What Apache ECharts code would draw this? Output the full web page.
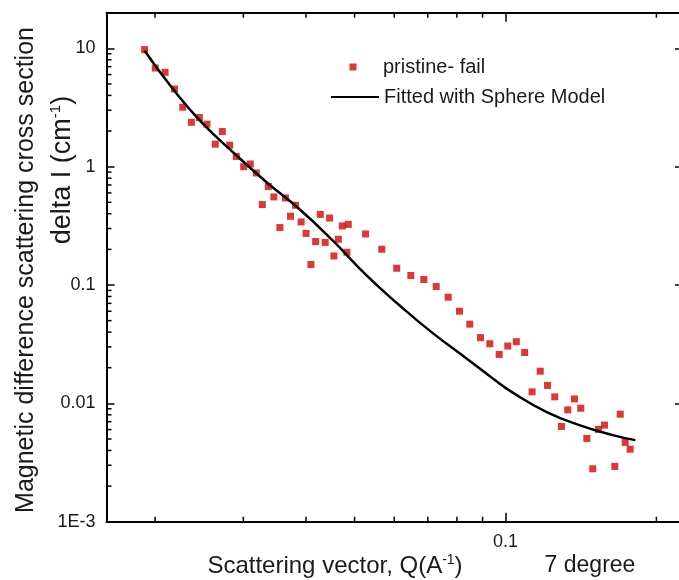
<!DOCTYPE html>
<html><head><meta charset="utf-8">
<script src="https://cdn.jsdelivr.net/npm/echarts@6/dist/echarts.min.js"></script>
<style>html,body{margin:0;padding:0;background:#fff}#c{width:679px;height:580px}</style>
</head><body><div id="c"></div>
<script>
// Measured points: pristine- fail
const qData = [0.01906,0.02002,0.02094,0.02186,0.02271,0.02363,0.02451,0.02538,0.02637,0.02724,
  0.02817,0.02904,0.03004,0.03097,0.03184,0.03364,0.03273,0.03451,0.03640,0.03813,
  0.03548,0.03725,0.03911,0.04002,0.04091,0.04181,0.04272,0.04368,0.04458,0.04547,
  0.04640,0.04725,0.04827,0.04858,0.05259,0.05666,0.06068,0.06474,0.06872,0.07274,
  0.07687,0.08096,0.08488,0.08916,0.09305,0.09715,0.10106,0.1051,0.1092,0.1130,
  0.1173,0.1213,0.1254,0.1293,0.1331,0.1373,0.1413,0.1453,0.1493,0.1533,
  0.1576,0.1652,0.1694,0.1733,0.1773];
const iData = [9.75,6.82,6.27,4.53,3.18,2.37,2.60,2.29,1.55,1.98,
  1.52,1.22,1.00,1.054,0.885,0.679,0.4785,0.555,0.544,0.472,
  0.306,0.381,0.341,0.273,0.149,0.233,0.395,0.229,0.368,0.176,
  0.2436,0.3156,0.189,0.3256,0.270,0.2006,0.1386,0.1203,0.1113,0.0971,
  0.0789,0.0601,0.0467,0.0359,0.0319,0.0259,0.0305,0.0332,0.0269,0.01251,
  0.0187,0.01417,0.01135,0.00638,0.00881,0.0109,0.0091,0.00505,0.0028,0.00602,
  0.00655,0.00293,0.0081,0.00468,0.0041];
// Fitted with Sphere Model
const fitQ = [0.01906,0.02156,0.02455,0.02904,0.03333,0.03884,0.04526,0.05276,0.06143,0.07161,
  0.08348,0.09421,0.1034,0.1206,0.1404,0.1636,0.1816];
const fitI = [9.53,4.71,2.465,1.248,0.743,0.4367,0.2367,0.121,0.0675,0.0392,
  0.0241,0.01632,0.01231,0.00848,0.00655,0.00539,0.00489];
// Tick positions / labels
const xMinorTicks = [0.02,0.03,0.04,0.05,0.06,0.07,0.08,0.09,0.2];
const yMinorTicks = [0.002,0.003,0.004,0.005,0.006,0.007,0.008,0.009,
  0.02,0.03,0.04,0.05,0.06,0.07,0.08,0.09,
  0.2,0.3,0.4,0.5,0.6,0.7,0.8,0.9,
  2,3,4,5,6,7,8,9];
const yTickValues = [0.001,0.01,0.1,1,10];
const yTickLabels = ['1E-3','0.01','0.1','1','10'];
const xTickValues = [0.1];
const xTickLabels = ['0.1'];
const X_MIN = 0.016, X_MAX = 0.226, Y_MIN = 0.001, Y_MAX = 20;

function labelFor(v, vals, labs){
  for (let i=0;i<vals.length;i++){ if (Math.abs(v/vals[i]-1) < 1e-6) return labs[i]; }
  return '';
}
const FONT = '"Liberation Sans", Arial, sans-serif';
const TXT = '#1a1a1a';
const axisBase = {
  type:'log', logBase:10,
  axisLine:{show:true, onZero:false, lineStyle:{color:'#000', width:2}},
  splitLine:{show:false}, minorTick:{show:false}, minorSplitLine:{show:false}
};
const chart = echarts.init(document.getElementById('c'), null, {renderer:'canvas'});
chart.setOption({
  animation:false,
  backgroundColor:'#fff',
  grid:{left:106.5, top:12.7, right:-4, bottom:58.3, containLabel:false, outerBoundsMode:'none'},
  xAxis:[
    Object.assign({}, axisBase, {min:X_MIN, max:X_MAX, position:'bottom',
      axisTick:{show:true, inside:true, length:9, lineStyle:{color:'#000', width:1.5}},
      axisLabel:{show:true, margin:11, fontSize:18, color:TXT, fontFamily:FONT,
        showMinLabel:true, showMaxLabel:true, hideOverlap:false,
        formatter:v=>labelFor(v, xTickValues, xTickLabels)}}),
    Object.assign({}, axisBase, {min:X_MIN, max:X_MAX, position:'top',
      axisTick:{show:true, inside:true, length:9, lineStyle:{color:'#000', width:1.5}},
      axisLabel:{show:false}})
  ],
  yAxis:[
    Object.assign({}, axisBase, {min:Y_MIN, max:Y_MAX, position:'left',
      axisTick:{show:true, inside:true, length:8, lineStyle:{color:'#000', width:1.5}},
      axisLabel:{show:true, margin:11, fontSize:18, color:TXT, fontFamily:FONT,
        showMinLabel:true, showMaxLabel:true, hideOverlap:false,
        formatter:v=>labelFor(v, yTickValues, yTickLabels)}}),
    Object.assign({}, axisBase, {min:Y_MIN, max:Y_MAX, position:'right',
      axisTick:{show:true, inside:true, length:8, lineStyle:{color:'#000', width:1.5}},
      axisLabel:{show:false}})
  ],
  legend:[
    {data:[{name:'pristine- fail', icon:'rect'}],
      left:349.5, top:57, padding:0, itemWidth:7, itemHeight:7, itemGap:0,
      textStyle:{fontSize:20, color:TXT, fontFamily:FONT, padding:[0,0,0,21.5]}},
    {data:[{name:'Fitted with Sphere Model', itemStyle:{color:'rgba(0,0,0,0)', borderWidth:0, opacity:0}}],
      left:330, top:87, padding:0, itemWidth:48, itemHeight:2, itemGap:0,
      textStyle:{fontSize:20, color:TXT, fontFamily:FONT}}
  ],
  graphic:[
    {type:'text', x:26, y:270, rotation:Math.PI/2, silent:true,
      style:{text:'Magnetic difference scattering cross section', fill:TXT,
        font:'25px '+FONT, align:'center', verticalAlign:'middle'}},
    {type:'text', x:62.5, y:170, rotation:Math.PI/2, silent:true,
      style:{text:'{a|delta I (cm}{s|-1}{a|)}', fill:TXT, align:'center', verticalAlign:'middle',
        rich:{a:{fontSize:27, fontFamily:FONT, fill:TXT}, s:{fontSize:15, fontFamily:FONT, fill:TXT, verticalAlign:'top', padding:[0,0,13,0]}}}},
    {type:'text', x:335, y:566, silent:true,
      style:{text:'{a|Scattering vector, Q(A}{s|-1}{a|)}', fill:TXT, align:'center', verticalAlign:'middle',
        rich:{a:{fontSize:24, fontFamily:FONT, fill:TXT}, s:{fontSize:14, fontFamily:FONT, fill:TXT, verticalAlign:'top', padding:[0,0,12,0]}}}},
    {type:'text', x:590, y:566, silent:true,
      style:{text:'7 degree', fill:TXT, font:'23px '+FONT, align:'center', verticalAlign:'middle'}}
  ],
  series:[
    {type:'custom', name:'xminor', xAxisIndex:0, yAxisIndex:0, silent:true, clip:false, z:1,
      data:xMinorTicks.map(v=>[v, Y_MIN]),
      renderItem:(params, api)=>{
        const v = api.value(0);
        const b = api.coord([v, Y_MIN]), t = api.coord([v, Y_MAX]);
        return {type:'group', children:[
          {type:'line', shape:{x1:b[0],y1:b[1],x2:b[0],y2:b[1]-5}, style:{stroke:'#000', lineWidth:1.5}},
          {type:'line', shape:{x1:t[0],y1:t[1],x2:t[0],y2:t[1]+5}, style:{stroke:'#000', lineWidth:1.5}}
        ]};
      }},
    {type:'custom', name:'yminor', xAxisIndex:0, yAxisIndex:0, silent:true, clip:false, z:1,
      data:yMinorTicks.map(v=>[X_MIN, v]),
      renderItem:(params, api)=>{
        const v = api.value(1);
        const l = api.coord([X_MIN, v]);
        return {type:'line', shape:{x1:l[0],y1:l[1],x2:l[0]+5,y2:l[1]}, style:{stroke:'#000', lineWidth:1.5}};
      }},
    {type:'scatter', name:'pristine- fail', xAxisIndex:0, yAxisIndex:0, z:3,
      symbol:'rect', symbolSize:7, itemStyle:{color:'#d90404'},
      data:qData.map((q,i)=>[q, iData[i]])},
    {type:'line', name:'Fitted with Sphere Model', xAxisIndex:0, yAxisIndex:0, z:4,
      smooth:true, symbol:'none', showSymbol:false,
      lineStyle:{color:'#000', width:2.5}, itemStyle:{color:'#000'},
      data:fitQ.map((q,i)=>[q, fitI[i]])}
  ]
});
</script></body></html>
